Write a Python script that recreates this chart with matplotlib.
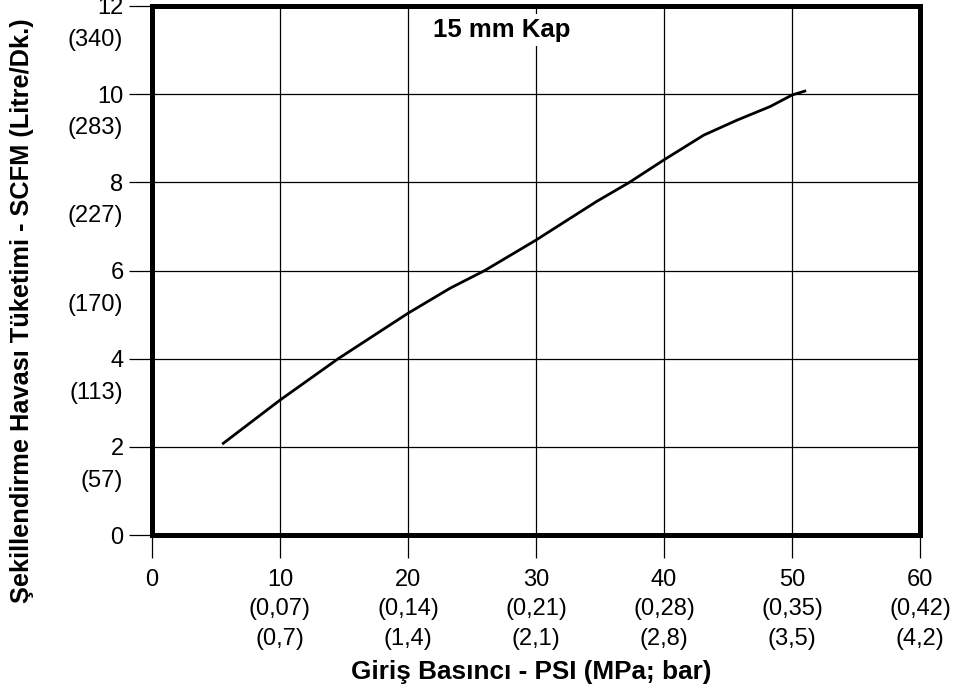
import matplotlib
matplotlib.use('Agg')
import matplotlib.pyplot as plt
from matplotlib.transforms import blended_transform_factory

plt.rcParams['font.family'] = ['Liberation Sans', 'DejaVu Sans']
plt.rcParams['font.size'] = 17

# curve
psi = [5.57, 10, 14.55, 20, 23.3, 26, 30, 34.7, 37.3, 40, 43.1, 45.7, 48.3, 50, 51]
scfm = [2.08, 3.06, 4.0, 5.03, 5.6, 6.0, 6.69, 7.56, 8.0, 8.51, 9.07, 9.41, 9.72, 9.98, 10.07]

x_ticks = [0, 10, 20, 30, 40, 50, 60]
x_mpa = ['', '(0,07)', '(0,14)', '(0,21)', '(0,28)', '(0,35)', '(0,42)']
x_bar = ['', '(0,7)', '(1,4)', '(2,1)', '(2,8)', '(3,5)', '(4,2)']
y_ticks = [0, 2, 4, 6, 8, 10, 12]
y_lpm = ['', '(57)', '(113)', '(170)', '(227)', '(283)', '(340)']

fig = plt.figure(figsize=(9.66, 6.92), dpi=100)
ax = fig.add_axes([152 / 966, 1 - 535 / 692, 768 / 966, 529 / 692])

ax.plot(psi, scfm, color='black', linewidth=2.0, zorder=4)

ax.set_xlim(0, 60)
ax.set_ylim(0, 12)
ax.set_xticks(x_ticks)
ax.set_yticks(y_ticks)
xlabels = [str(t) if not m else f'{t}\n{m}\n{b}' for t, m, b in zip(x_ticks, x_mpa, x_bar)]
ax.set_xticklabels(xlabels, linespacing=1.43)
ax.set_yticklabels([str(t) for t in y_ticks])
ax.tick_params(axis='both', length=16.5, width=0.9, color='black', direction='out')
ax.tick_params(axis='x', pad=8)
ax.tick_params(axis='y', pad=4)

trans = blended_transform_factory(ax.transAxes, ax.transData)
for t, lab in zip(y_ticks, y_lpm):
    if lab:
        ax.annotate(lab, xy=(0, t), xycoords=trans, xytext=(-20.8, -24.5),
                    textcoords='offset points', ha='right', va='center')

ax.grid(True, color='black', linewidth=0.9)
for s in ax.spines.values():
    s.set_linewidth(3.6)
    s.set_color('black')

ax.text(0.455, 0.955, '15 mm Kap', transform=ax.transAxes, ha='center', va='center',
        fontsize=18.5, fontweight='bold', zorder=5,
        bbox=dict(facecolor='white', edgecolor='none', boxstyle='square,pad=0.15'))

fig.text(531 / 966, 1 - 672 / 692, 'Giriş Basıncı - PSI (MPa; bar)', ha='center', va='center',
         fontsize=18.8, fontweight='bold')
fig.text(22 / 966, 1 - 311 / 692, 'Şekillendirme Havası Tüketimi - SCFM (Litre/Dk.)', ha='center',
         va='center', rotation=90, fontsize=18.3, fontweight='bold')

fig.savefig('out.png', dpi=100)
